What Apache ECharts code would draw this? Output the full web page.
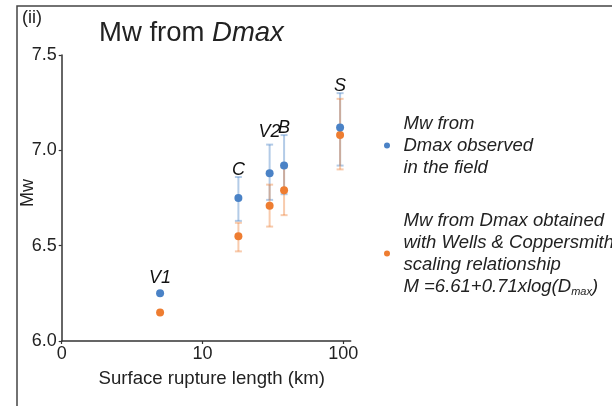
<!DOCTYPE html>
<html><head><meta charset="utf-8">
<script src="https://cdn.jsdelivr.net/npm/echarts@6/dist/echarts.min.js"></script>
<style>html,body{margin:0;padding:0;background:#fff}#c{width:612px;height:406px}</style>
</head><body><div id="c"></div>
<script>
// ---- data ----
const faultNames = ['V1', 'C', 'V2', 'B', 'S'];
const ruptureLength = [5, 18, 30, 38, 95];           // km
const mwObserved = [6.25, 6.75, 6.88, 6.92, 7.12];
const mwObservedLow = [null, 6.63, 6.74, 6.77, 6.92];
const mwObservedHigh = [null, 6.86, 7.03, 7.08, 7.30];
const mwWells = [6.15, 6.55, 6.71, 6.79, 7.08];
const mwWellsLow = [null, 6.47, 6.60, 6.66, 6.90];
const mwWellsHigh = [null, 6.62, 6.82, 6.91, 7.27];
const xTickValues = [1, 10, 100];
const xTickLabels = ['0', '10', '100'];
const yTicks = [6.0, 6.5, 7.0, 7.5];

const FONT = 'Liberation Sans, Arial, Helvetica, sans-serif';
const BLUE = '#4a82c6', ORANGE = '#ee7d31';
const BLUE_BAR = 'rgba(74,130,198,0.42)', ORANGE_BAR = 'rgba(238,125,49,0.40)';

function errData(lo, hi) {
  return ruptureLength.map((x, i) => lo[i] == null ? null : [x, lo[i], hi[i]]).filter(d => d);
}
function renderErr(color) {
  return function (params, api) {
    const x = api.value(0);
    const p1 = api.coord([x, api.value(1)]);
    const p2 = api.coord([x, api.value(2)]);
    const hw = 3.5;
    const st = { stroke: color, lineWidth: 2 };
    return { type: 'group', children: [
      { type: 'line', shape: { x1: p1[0], y1: p1[1], x2: p2[0], y2: p2[1] }, style: st },
      { type: 'line', shape: { x1: p1[0] - hw, y1: p1[1], x2: p1[0] + hw, y2: p1[1] }, style: st },
      { type: 'line', shape: { x1: p2[0] - hw, y1: p2[1], x2: p2[0] + hw, y2: p2[1] }, style: st }
    ]};
  };
}
const labelLift = { V1: 8, V2: 6 };
const labelData = faultNames.map((n, i) => ({
  value: [ruptureLength[i], mwObservedHigh[i] == null ? mwObserved[i] : mwObservedHigh[i]],
  name: n,
  label: { distance: -2 + (labelLift[n] || 0) }
}));

const legendText = {
  obs: '{t|Mw from}\n{t|Dmax observed}\n{t|in the field}',
  wc: '{t|Mw from Dmax obtained}\n{t|with Wells & Coppersmith}\n{t|scaling relationship}\n{t|M =6.61+0.71xlog(D}{s|max}{t|)}'
};

const chart = echarts.init(document.getElementById('c'));
chart.setOption({
  backgroundColor: '#fff',
  animation: false,
  textStyle: { fontFamily: FONT },
  title: [
    { text: '{n|Mw from }{i|Dmax}', left: 99, top: 19, padding: 0,
      textStyle: { rich: {
        n: { fontSize: 27.5, fontWeight: 'normal', fontFamily: FONT, color: '#222' },
        i: { fontSize: 27.5, fontWeight: 'normal', fontFamily: FONT, color: '#222', fontStyle: 'italic' } } } },
    { text: '(ii)', left: 22, top: 9, padding: 0,
      textStyle: { fontSize: 18, fontWeight: 'normal', fontFamily: FONT, color: '#222' } }
  ],
  graphic: [
    { type: 'polyline', shape: { points: [[17, 420], [17, 6], [620, 6]] },
      style: { stroke: '#444', lineWidth: 1.5, fill: null }, silent: true }
  ],
  grid: { left: 61.7, right: 261.3, top: 55, bottom: 65, containLabel: false },
  xAxis: {
    type: 'log', logBase: 10, min: 1, max: 113,
    name: 'Surface rupture length (km)', nameLocation: 'middle', nameGap: 28,
    nameTextStyle: { fontSize: 18.6, color: '#222', fontFamily: FONT, padding: [0, 0, 0, 11] },
    axisLine: { lineStyle: { color: '#333', width: 1.5 } },
    axisTick: { length: 3, lineStyle: { color: '#333', width: 1.2 }, customValues: xTickValues },
    axisLabel: { fontSize: 18, color: '#222', margin: 4, fontFamily: FONT,
      customValues: xTickValues,
      formatter: v => { const i = xTickValues.findIndex(t => Math.abs(t - v) < 1e-6); return i >= 0 ? xTickLabels[i] : ''; } },
    splitLine: { show: false }
  },
  yAxis: {
    type: 'value', min: 6, max: 7.5, interval: 0.5,
    name: 'Mw', nameLocation: 'middle', nameGap: 25, nameRotate: 90, nameMoveOverlap: false,
    nameTextStyle: { fontSize: 18, color: '#222', fontFamily: FONT, padding: [0, 0, 0, 10] },
    axisLine: { show: true, lineStyle: { color: '#333', width: 1.5 } },
    axisTick: { show: true, length: 3, lineStyle: { color: '#333', width: 1.2 } },
    axisLabel: { fontSize: 18, color: '#222', margin: 5, fontFamily: FONT,
      formatter: v => (yTicks.find(t => Math.abs(t - v) < 1e-6) ?? v).toFixed(1) },
    splitLine: { show: false }
  },
  legend: {
    orient: 'vertical', left: 379, top: 109, itemWidth: 23, itemHeight: 6, itemGap: 34,
    data: [{ name: 'obs', icon: 'circle' }, { name: 'wc', icon: 'circle' }],
    formatter: n => legendText[n],
    textStyle: { rich: {
      t: { fontSize: 18.5, fontStyle: 'italic', color: '#222', fontFamily: FONT, lineHeight: 22 },
      s: { fontSize: 11, fontStyle: 'italic', color: '#222', fontFamily: FONT, lineHeight: 22, verticalAlign: 'bottom', padding: [12, 0, 0, 0] } } }
  },
  series: [
    { type: 'custom', name: 'obsErr', renderItem: renderErr(BLUE_BAR), data: errData(mwObservedLow, mwObservedHigh), z: 2, silent: true },
    { type: 'custom', name: 'wcErr', renderItem: renderErr(ORANGE_BAR), data: errData(mwWellsLow, mwWellsHigh), z: 2, silent: true },
    { type: 'scatter', name: 'wc', symbol: 'circle', symbolSize: 8, itemStyle: { color: ORANGE, opacity: 1 },
      data: ruptureLength.map((x, i) => [x, mwWells[i]]), z: 3 },
    { type: 'scatter', name: 'obs', symbol: 'circle', symbolSize: 8, itemStyle: { color: BLUE, opacity: 1 },
      data: ruptureLength.map((x, i) => [x, mwObserved[i]]), z: 4 },
    { type: 'scatter', name: 'labels', symbolSize: 0, silent: true, z: 5,
      itemStyle: { opacity: 1 },
      data: labelData,
      label: { show: true, position: 'top', formatter: p => p.name, fontSize: 18, fontStyle: 'italic', color: '#111', opacity: 1, textBorderWidth: 0, fontFamily: FONT } }
  ]
});
</script></body></html>
